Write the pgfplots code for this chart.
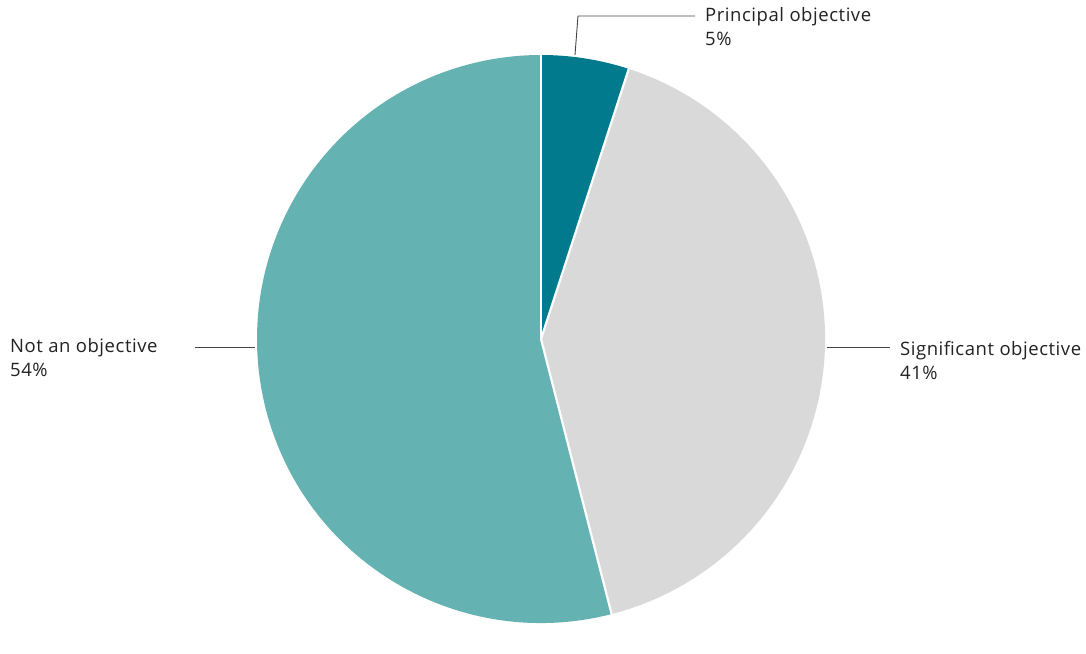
\documentclass[border=0pt]{standalone}
\usepackage{pgfplots}
\pgfplotsset{compat=1.18}
\usepackage{pgfplotstable}
\usepackage{fontspec}
\setmainfont{Open Sans}[LetterSpace=3]
\definecolor{pc}{HTML}{007A8C}
\definecolor{sc}{HTML}{D9D9D9}
\definecolor{nc}{HTML}{64B2B1}
\definecolor{tx}{HTML}{222222}
\definecolor{ln}{HTML}{444444}
\pgfplotstableread{
label value
Principal 5
Significant 41
Not 54
}\piedata
\begin{document}
\begin{tikzpicture}
\pgfplotstablegetelem{0}{value}\of\piedata \let\va\pgfplotsretval
\pgfplotstablegetelem{1}{value}\of\piedata \let\vb\pgfplotsretval
\pgfplotstablegetelem{2}{value}\of\piedata \let\vc\pgfplotsretval
\pgfmathsetmacro\aA{90}
\pgfmathsetmacro\aB{90-3.6*\va}
\pgfmathsetmacro\aC{\aB-3.6*\vb}
\pgfmathsetmacro\aD{\aC-3.6*\vc}
\begin{axis}[
  width=1086pt, height=625pt, scale only axis,
  xmin=0, xmax=1086, ymin=0, ymax=625,
  hide axis, clip=false,
]
\path (axis cs:0,0) rectangle (axis cs:1086,625);
\fill[pc] (axis cs:541,286) -- ++(\aA:284pt) arc[start angle=\aA, end angle=\aB, radius=284pt] -- cycle;
\fill[sc] (axis cs:541,286) -- ++(\aB:284pt) arc[start angle=\aB, end angle=\aC, radius=284pt] -- cycle;
\fill[nc] (axis cs:541,286) -- ++(\aC:284pt) arc[start angle=\aC, end angle=\aD, radius=284pt] -- cycle;
\draw[white, line width=2.2pt] (axis cs:541,286) -- ++(\aA:285pt);
\draw[white, line width=2.2pt] (axis cs:541,286) -- ++(\aB:285pt);
\draw[white, line width=2.2pt] (axis cs:541,286) -- ++(\aC:285pt);
% leader lines
\draw[ln, line width=0.9pt] (axis cs:575,570) -- (axis cs:578,609) -- (axis cs:695,609);
\draw[ln, line width=0.9pt] (axis cs:827,278) -- (axis cs:890,278);
\draw[ln, line width=0.9pt] (axis cs:195,278) -- (axis cs:255,278);
% labels
\node[anchor=west, inner sep=0pt, align=left, text=tx, font=\fontsize{18.5}{24}\selectfont] at (axis cs:705,598) {Principal objective\\5\%};
\node[anchor=west, inner sep=0pt, align=left, text=tx, font=\fontsize{18.5}{24}\selectfont] at (axis cs:900,264.5) {Significant objective\\41\%};
\node[anchor=west, inner sep=0pt, align=left, text=tx, font=\fontsize{18.5}{24}\selectfont] at (axis cs:10,267) {Not an objective\\54\%};
\end{axis}
\end{tikzpicture}
\end{document}
